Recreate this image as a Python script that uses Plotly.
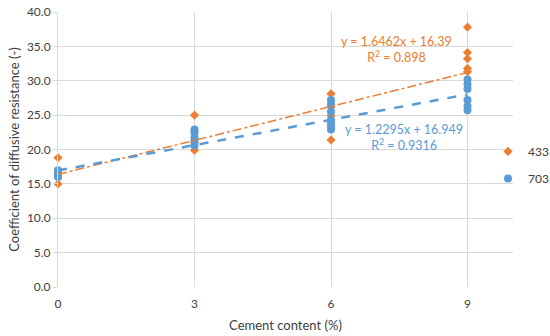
import plotly.graph_objects as go

# Data
x_433 = [0, 0, 3, 3, 3, 6, 6, 6, 6, 9, 9, 9, 9, 9]
y_433 = [18.8, 15.0, 25.0, 21.0, 19.9, 28.1, 26.2, 24.9, 21.4, 37.8, 34.1, 33.2, 31.8, 31.3]

x_703 = [0, 0, 0, 0, 0, 3, 3, 3, 3, 3, 6, 6, 6, 6, 6, 6, 6, 9, 9, 9, 9, 9, 9]
y_703 = [17.0, 16.8, 16.5, 16.3, 16.0, 22.9, 22.5, 21.8, 21.3, 20.6,
         27.2, 26.6, 25.5, 24.3, 23.8, 23.3, 22.9, 30.2, 29.5, 28.8, 27.2, 26.3, 25.7]

# Trendline coefficients (slope, intercept) and R^2 as labelled
fit_433 = (1.6462, 16.39, 0.898)
fit_703 = (1.2295, 16.949, 0.9316)
fit_x = [0, 9]

x_ticks = [0, 3, 6, 9]
y_ticks = [0, 5, 10, 15, 20, 25, 30, 35, 40]

ORANGE = "#ED7D31"
BLUE = "#5B9BD5"
FONT = "Lato, 'Open Sans', sans-serif"

fig = go.Figure()

fig.add_trace(go.Scatter(
    x=x_433, y=y_433, mode="markers", name="433", legendgroup="a",
    marker=dict(symbol="diamond", size=7, color=ORANGE), cliponaxis=False))
fig.add_trace(go.Scatter(
    x=x_703, y=y_703, mode="markers", name="703", legendgroup="b",
    marker=dict(symbol="circle", size=8, color=BLUE), cliponaxis=False))

fig.add_trace(go.Scatter(
    x=fit_x, y=[fit_433[0] * v + fit_433[1] for v in fit_x],
    mode="lines", line=dict(color=ORANGE, width=1.5, dash="dashdot"),
    showlegend=False, hoverinfo="skip"))
fig.add_trace(go.Scatter(
    x=fit_x, y=[fit_703[0] * v + fit_703[1] for v in fit_x],
    mode="lines", line=dict(color=BLUE, width=2.5, dash="dash"),
    showlegend=False, hoverinfo="skip"))

fig.add_annotation(x=7.45, y=34.6, xref="x", yref="y", showarrow=False,
                   text=f"y = {fit_433[0]}x + {fit_433[1]}<br>R<sup>2</sup> = {fit_433[2]}",
                   font=dict(color=ORANGE, size=12.5, family=FONT), align="center")
fig.add_annotation(x=7.6, y=21.7, xref="x", yref="y", showarrow=False,
                   text=f"y = {fit_703[0]}x + {fit_703[1]}<br>R<sup>2</sup> = {fit_703[2]}",
                   font=dict(color=BLUE, size=12.5, family=FONT), align="center")

fig.update_layout(
    width=550, height=336,
    margin=dict(l=58, r=37, t=12, b=49, autoexpand=False),
    paper_bgcolor="white", plot_bgcolor="white",
    font=dict(family=FONT, size=12, color="#404040"),
    legend=dict(x=0.945, y=0.444, xanchor="left", yanchor="middle",
                font=dict(size=12, color="#404040"),
                itemwidth=30, tracegroupgap=8, bgcolor="rgba(0,0,0,0)"),
    xaxis=dict(range=[0, 10], tickvals=x_ticks, ticktext=[str(v) for v in x_ticks],
               showgrid=True, gridcolor="#d9d9d9", gridwidth=1,
               zeroline=False, showline=False,
               ticks="outside", ticklen=6, tickcolor="rgba(0,0,0,0)",
               title=dict(text="Cement content (%)", font=dict(size=13), standoff=10),
               tickfont=dict(size=12), automargin=False),
    yaxis=dict(range=[0, 40], tickvals=y_ticks, ticktext=[f"{v:.1f}" for v in y_ticks],
               showgrid=True, gridcolor="#d9d9d9", gridwidth=1,
               zeroline=False, showline=True, linecolor="#d9d9d9",
               ticks="outside", ticklen=4, tickcolor="#d9d9d9",
               title=dict(text="Coefficient of diffusive resistance (-)", font=dict(size=13), standoff=4),
               tickfont=dict(size=12), automargin=False),
)

fig.write_html("out.html", config={"displayModeBar": False},
               post_script="document.body.style.margin='0';")
